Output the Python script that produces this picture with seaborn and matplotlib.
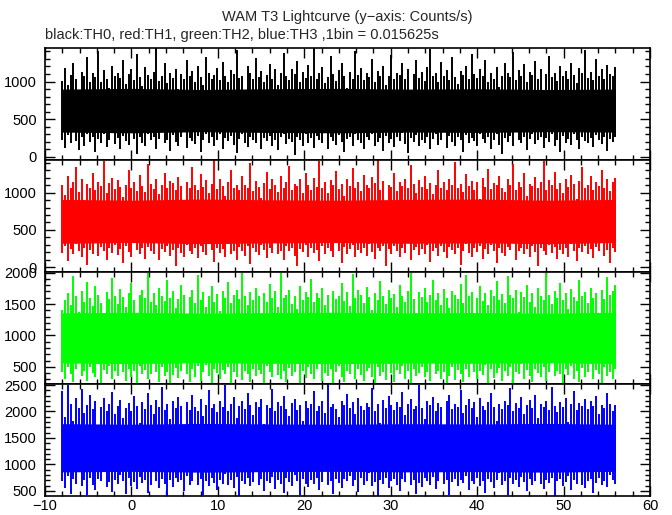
import numpy as np
import pandas as pd
import matplotlib
matplotlib.use("Agg")
import matplotlib.pyplot as plt
from matplotlib.ticker import MultipleLocator
import seaborn as sns

# ---------------- data ----------------
# envelope of the light curve, read at 201 positions from -8 s to 56 s
t_start, t_end = -8.0, 56.0

th0_hi = [1010, 1180, 960, 1090, 1250, 1040, 880, 1130, 1070, 1320,
          1000, 1110, 1060, 1400, 990, 1150, 1030, 920, 1210, 1080,
          1120, 1050, 1290, 970, 1100, 1160, 1020, 1360, 1060, 940,
          1190, 1090, 1040, 1130, 1440, 1010, 1070, 1240, 980, 1120,
          1050, 1170, 900, 1100, 1030, 1280, 1080, 1140, 1000, 1210,
          1060, 960, 1330, 1110, 1040, 1090, 1180, 1020, 1260, 1070,
          990, 1150, 1100, 1420, 1050, 1080, 850, 1200, 1120, 1030,
          1310, 1060, 1140, 1000, 1090, 1230, 1040, 1170, 950, 1110,
          1380, 1070, 1020, 1160, 1100, 1270, 990, 1130, 1050, 1220,
          1080, 1440, 1030, 1120, 1190, 980, 1060, 1340, 1100, 1010,
          1150, 1250, 1070, 920, 1130, 1040, 1410, 1090, 1180, 1020,
          1110, 1060, 1300, 1000, 1140, 1080, 1200, 960, 1070, 1350,
          1040, 1120, 1090, 1240, 1030, 1170, 890, 1100, 1280, 1050,
          1130, 1010, 1190, 1430, 1070, 1110, 1000, 1260, 1080, 1150,
          1020, 1320, 1060, 970, 1140, 1090, 1210, 1040, 1370, 1100,
          1050, 1160, 1080, 1290, 1000, 1120, 1030, 1190, 930, 1070,
          1240, 1110, 1060, 1390, 1020, 1150, 1080, 1230, 1000, 1130,
          1090, 1270, 1040, 1170, 870, 1100, 1340, 1060, 1120, 1010,
          1200, 1070, 1140, 1030, 1250, 1090, 980, 1180, 1110, 1420,
          1050, 1130, 1020, 1300, 1080, 1160, 1040, 1220, 1100, 1070,
          1190]
th0_lo = [230, 120, 290, 180, 340, 210, 90, 260, 150, 310,
          200, 270, 60, 240, 180, 300, 130, 220, 350, 170,
          250, 100, 280, 210, 160, 320, 240, 40, 270, 190,
          140, 300, 220, 260, 110, 240, 360, 180, 230, 80,
          290, 200, 150, 270, 330, 120, 250, 210, 170, 280,
          70, 230, 310, 190, 260, 140, 220, 300, 100, 250,
          210, 280, 160, 50, 240, 300, 190, 130, 270, 230,
          180, 340, 110, 250, 210, 280, 150, 230, 90, 260,
          300, 170, 240, 200, 30, 270, 220, 140, 310, 190,
          250, 120, 280, 230, 180, 350, 100, 260, 210, 160,
          290, 200, 60, 240, 270, 150, 310, 220, 180, 110,
          260, 230, 300, 140, 200, 250, 80, 280, 190, 240,
          130, 270, 210, 320, 170, 50, 250, 200, 290, 150,
          230, 180, 270, 100, 240, 300, 160, 220, 340, 120,
          280, 200, 150, 260, 230, 70, 290, 180, 250, 210,
          140, 310, 240, 190, 270, 110, 230, 300, 160, 40,
          250, 200, 280, 140, 330, 220, 180, 260, 90, 240,
          300, 170, 230, 270, 120, 250, 200, 310, 150, 220,
          60, 280, 190, 240, 160, 300, 230, 100, 270, 210,
          180, 250, 130, 290, 220, 170, 260, 80, 240, 200,
          270]

th1_hi = [1100, 970, 1220, 1060, 1140, 1350, 1010, 1180, 900, 1120,
          1070, 1260, 1040, 1150, 1090, 1430, 1000, 1130, 1200, 1050,
          1170, 1080, 940, 1110, 1300, 1060, 1140, 1020, 1240, 1090,
          1010, 1380, 1120, 1050, 1190, 980, 1100, 1270, 1070, 1160,
          1130, 1040, 1210, 1090, 870, 1150, 1060, 1340, 1110, 1030,
          1250, 1080, 1170, 1000, 1120, 1440, 1050, 1190, 1090, 960,
          1140, 1310, 1070, 1110, 1030, 1220, 1100, 1060, 1400, 1020,
          1160, 1080, 930, 1130, 1280, 1050, 1180, 1100, 1010, 1230,
          1070, 1150, 1360, 1040, 1120, 1090, 1190, 990, 1260, 1110,
          1030, 1200, 1080, 1420, 1060, 1140, 1000, 1170, 1100, 1290,
          1050, 1120, 950, 1180, 1090, 1330, 1070, 1150, 1020, 1240,
          1100, 1060, 1210, 1130, 1440, 1040, 1160, 890, 1110, 1080,
          1270, 1020, 1140, 1090, 1190, 1060, 1370, 1120, 1000, 1170,
          1080, 1230, 1050, 1130, 980, 1110, 1300, 1070, 1150, 1040,
          1190, 1100, 1410, 1060, 1120, 1010, 1250, 1090, 1160, 1030,
          1140, 920, 1200, 1080, 1320, 1050, 1130, 1100, 1220, 1070,
          1010, 1180, 1110, 1390, 1040, 1150, 1080, 1260, 960, 1120,
          1090, 1210, 1060, 1140, 1430, 1030, 1170, 1100, 1280, 1050,
          1130, 1000, 1190, 1080, 1240, 1120, 910, 1160, 1350, 1070,
          1110, 1230, 1040, 1150, 1090, 1300, 1060, 1180, 1020, 1140,
          1200]
th1_lo = [190, 290, 80, 240, 170, 310, 210, 130, 260, 30,
          230, 180, 340, 150, 270, 210, 100, 250, 190, 300,
          160, 240, 60, 280, 200, 140, 320, 230, 170, 250,
          110, 270, 210, 180, 350, 90, 240, 200, 290, 150,
          230, 20, 260, 190, 140, 300, 220, 170, 250, 120,
          280, 200, 160, 330, 230, 70, 260, 190, 240, 140,
          310, 180, 220, 100, 270, 210, 150, 290, 40, 250,
          200, 160, 300, 230, 120, 260, 190, 340, 170, 220,
          90, 280, 210, 250, 150, 10, 240, 200, 300, 130,
          260, 190, 230, 80, 290, 170, 250, 210, 140, 320,
          220, 60, 270, 180, 240, 300, 130, 230, 190, 260,
          150, 310, 200, 110, 250, 220, 280, 20, 240, 170,
          290, 210, 140, 260, 190, 330, 100, 230, 270, 160,
          240, 180, 300, 70, 220, 260, 150, 290, 200, 120,
          270, 230, 170, 250, 30, 210, 310, 190, 140, 260,
          200, 280, 110, 240, 180, 300, 220, 60, 250, 190,
          150, 270, 230, 320, 90, 210, 260, 170, 240, 130,
          290, 200, 10, 250, 220, 160, 300, 190, 270, 110,
          230, 180, 260, 140, 310, 220, 80, 250, 200, 290,
          170, 240, 120, 270, 210, 330, 150, 230, 50, 260,
          200]

th2_hi = [1410, 1560, 1680, 1490, 1950, 1620, 1380, 1710, 1540, 1850,
          1600, 1470, 1790, 1650, 1520, 1300, 1690, 1580, 1910, 1630,
          1500, 1740, 1610, 1450, 1680, 1830, 1560, 1360, 1640, 1720,
          1590, 2000, 1530, 1670, 1480, 1760, 1620, 1550, 1880, 1600,
          1700, 1440, 1580, 1810, 1650, 1270, 1610, 1730, 1520, 1960,
          1570, 1690, 1460, 1630, 1780, 1540, 1660, 1390, 1700, 1600,
          1850, 1510, 1640, 1720, 1580, 2000, 1620, 1480, 1690, 1560,
          1750, 1620, 1330, 1670, 1540, 1820, 1600, 1700, 1460, 1990,
          1590, 1650, 1730, 1500, 1620, 1420, 1780, 1560, 1690, 1610,
          1900, 1530, 1670, 1600, 1760, 1480, 1640, 1310, 1710, 1580,
          1620, 1840, 1550, 1690, 1470, 1980, 1600, 1730, 1650, 1520,
          1770, 1610, 1400, 1680, 1560, 1860, 1630, 1500, 1720, 1590,
          1660, 1450, 1800, 1620, 1540, 1700, 2000, 1580, 1350, 1690,
          1610, 1750, 1530, 1640, 1890, 1570, 1680, 1490, 1740, 1600,
          1430, 1710, 1650, 1580, 1820, 1520, 1970, 1630, 1690, 1280,
          1600, 1780, 1550, 1670, 1480, 1730, 1620, 1870, 1570, 1660,
          1510, 1940, 1640, 1590, 1720, 1380, 1690, 1610, 1800, 1540,
          1680, 1460, 1750, 1620, 1560, 2000, 1650, 1500, 1710, 1590,
          1830, 1570, 1670, 1420, 1740, 1610, 1550, 1880, 1630, 1690,
          1520, 1760, 1600, 1680, 1340, 1720, 1580, 1930, 1640, 1700,
          1810]
th2_lo = [420, 310, 500, 380, 250, 460, 570, 350, 440, 280,
          490, 400, 330, 540, 230, 450, 380, 510, 300, 430,
          360, 590, 410, 270, 470, 340, 430, 240, 520, 390,
          450, 300, 380, 560, 420, 260, 490, 350, 410, 230,
          370, 480, 320, 440, 600, 390, 250, 460, 340, 510,
          280, 420, 530, 360, 240, 470, 400, 310, 450, 380,
          500, 230, 410, 340, 560, 290, 440, 380, 260, 470,
          350, 450, 390, 230, 510, 420, 330, 580, 370, 300,
          440, 260, 480, 360, 410, 540, 240, 430, 320, 490,
          380, 300, 460, 550, 270, 400, 350, 470, 230, 420,
          510, 340, 250, 440, 390, 610, 310, 460, 370, 280,
          430, 480, 330, 240, 500, 360, 420, 290, 550, 400,
          260, 450, 380, 520, 310, 430, 230, 470, 350, 400,
          490, 330, 410, 270, 560, 380, 440, 300, 420, 240,
          360, 500, 290, 450, 390, 250, 470, 340, 590, 410,
          300, 430, 370, 530, 240, 460, 320, 400, 480, 270,
          440, 350, 500, 230, 410, 380, 540, 310, 450, 360,
          260, 470, 400, 330, 490, 280, 420, 570, 350, 440,
          390, 240, 460, 370, 510, 300, 430, 260, 480, 340,
          420, 550, 310, 450, 380, 230, 490, 360, 410, 300,
          460]

th3_hi = [2380, 1900, 2500, 2150, 1820, 2260, 2060, 2430, 1980, 2120,
          2310, 2040, 2190, 1720, 2090, 2260, 2000, 2150, 2370, 1950,
          2110, 2220, 1880, 2070, 2160, 2010, 2290, 2100, 1790, 2180,
          2050, 2340, 2130, 1960, 2210, 2080, 2470, 2020, 2140, 1850,
          2190, 2060, 2270, 2110, 1700, 2170, 2030, 2320, 2090, 2000,
          2230, 1920, 2120, 2400, 2060, 2150, 1990, 2200, 2080, 2500,
          2010, 2140, 2280, 1870, 2100, 2190, 2040, 2350, 2120, 1940,
          2170, 2090, 2230, 1760, 2130, 2060, 2420, 2000, 2180, 2110,
          2300, 2050, 1910, 2160, 2240, 2020, 2130, 1830, 2200, 2070,
          2140, 2380, 2010, 2110, 2190, 1980, 2510, 2090, 2150, 2040,
          1890, 2200, 2120, 2330, 2060, 2170, 1950, 2250, 2100, 2030,
          2160, 2080, 2450, 2000, 2140, 1780, 2210, 2070, 2290, 2120,
          2020, 2180, 2090, 2360, 1930, 2150, 2240, 2050, 2110, 2500,
          2070, 1860, 2190, 2130, 2270, 2010, 2160, 2090, 1740, 2200,
          2310, 2040, 2150, 2080, 2410, 1970, 2120, 2230, 2060, 2180,
          1900, 2260, 2100, 2020, 2170, 2350, 2080, 1820, 2140, 2050,
          2190, 2120, 2440, 2010, 2160, 2070, 2280, 1950, 2130, 2210,
          2060, 2320, 1880, 2150, 2090, 2190, 2030, 2460, 2110, 1990,
          2170, 2080, 2250, 1800, 2140, 2390, 2020, 2160, 2100, 2230,
          2040, 2190, 2110, 2290, 1960, 2130, 2070, 2340, 2150, 2000,
          2120]
th3_lo = [690, 560, 780, 450, 720, 640, 880, 590, 700, 420,
          750, 620, 510, 730, 680, 900, 570, 660, 480, 710,
          630, 800, 690, 440, 740, 600, 670, 530, 760, 650,
          710, 470, 620, 850, 690, 560, 730, 640, 410, 700,
          580, 740, 660, 700, 500, 780, 620, 690, 930, 610,
          730, 430, 680, 600, 750, 650, 520, 710, 640, 820,
          620, 700, 560, 760, 410, 680, 630, 740, 590, 670,
          880, 610, 720, 490, 690, 650, 770, 540, 700, 630,
          460, 740, 660, 600, 810, 680, 420, 720, 640, 570,
          700, 630, 750, 520, 670, 900, 610, 690, 440, 730,
          650, 560, 720, 680, 780, 600, 700, 480, 740, 620,
          690, 840, 590, 660, 410, 710, 640, 750, 550, 680,
          720, 610, 500, 730, 670, 860, 620, 700, 450, 650,
          580, 740, 690, 620, 760, 530, 680, 920, 640, 710,
          430, 670, 720, 590, 700, 650, 790, 510, 690, 630,
          750, 600, 680, 470, 730, 660, 560, 710, 830, 620,
          690, 420, 740, 640, 700, 580, 770, 660, 490, 720,
          610, 680, 870, 630, 540, 710, 650, 740, 410, 690,
          730, 600, 660, 780, 520, 700, 640, 890, 620, 560,
          680, 720, 460, 650, 740, 610, 690, 580, 810, 700,
          640]

# dense (always filled) core of each band, read every 8 s
core_t = [-8, 0, 8, 16, 24, 32, 40, 48, 56]
th0_core_hi = [900, 910, 895, 905, 910, 900, 905, 895, 900]
th0_core_lo = [330, 320, 335, 325, 320, 330, 325, 335, 330]
th1_core_hi = [910, 900, 915, 905, 900, 910, 915, 900, 910]
th1_core_lo = [320, 330, 315, 325, 330, 320, 325, 315, 330]
th2_core_hi = [1360, 1370, 1355, 1365, 1370, 1360, 1365, 1355, 1370]
th2_core_lo = [560, 550, 565, 555, 550, 560, 555, 565, 550]
th3_core_hi = [1770, 1760, 1775, 1765, 1760, 1770, 1765, 1775, 1760]
th3_core_lo = [860, 870, 855, 865, 870, 860, 865, 855, 870]

channels = ["TH0", "TH1", "TH2", "TH3"]
colors = ["#000000", "#ff0000", "#00ff00", "#0000ff"]
ylims = [(-40, 1445), (-66, 1440), (226, 2010), (405, 2519)]
x_ticks = [-10, 0, 10, 20, 30, 40, 50, 60]

# ---------------- figure ----------------
sns.set_style("ticks")
plt.rcParams["font.family"] = ["Liberation Sans", "DejaVu Sans"]
plt.rcParams["axes.unicode_minus"] = True

W, H = 672, 515
fig = plt.figure(figsize=(W / 100, H / 100), dpi=100)
left, right = 45 / W, 650 / W
top, bottom = 1 - 48 / H, 1 - 496 / H
gs = fig.add_gridspec(4, 1, left=left, right=right, top=top, bottom=bottom, hspace=0)

his = [th0_hi, th1_hi, th2_hi, th3_hi]
los = [th0_lo, th1_lo, th2_lo, th3_lo]
core_his = [th0_core_hi, th1_core_hi, th2_core_hi, th3_core_hi]
core_los = [th0_core_lo, th1_core_lo, th2_core_lo, th3_core_lo]
t_bins = np.linspace(t_start, t_end, len(th0_hi))

axes = []
for i in range(4):
    ax = fig.add_subplot(gs[i, 0], sharex=axes[0] if axes else None)
    axes.append(ax)
    df = pd.DataFrame({"t": t_bins, "hi": his[i], "lo": los[i]})
    core = pd.DataFrame({"t": core_t, "hi": core_his[i], "lo": core_los[i]})
    ax.fill_between(core["t"], core["lo"], core["hi"], color=colors[i], lw=0)
    ax.vlines(df["t"], df["lo"], df["hi"], color=colors[i], lw=1.4)
    sns.lineplot(data=df, x="t", y="hi", ax=ax, color=colors[i], lw=0.0,
                 estimator=None, legend=False)
    ax.set_xlim(-10, 60)
    ax.set_ylim(*ylims[i])
    ax.yaxis.set_major_locator(MultipleLocator(500))
    ax.yaxis.set_minor_locator(MultipleLocator(100))
    ax.xaxis.set_major_locator(MultipleLocator(10))
    ax.xaxis.set_minor_locator(MultipleLocator(2))
    ax.set_xlabel("")
    ax.set_ylabel("")
    ax.tick_params(which="both", direction="in", top=True, right=True,
                   labelsize=10.5, width=1.0, color="black", labelcolor="black")
    ax.tick_params(which="major", length=7, pad=6)
    ax.tick_params(which="minor", length=3.5)
    for s in ax.spines.values():
        s.set_linewidth(1.2)
        s.set_color("black")
        s.set_visible(True)
    if i < 3:
        ax.tick_params(labelbottom=False)
    ax.set_facecolor("white")

axes[-1].set_xticks(x_ticks)
axes[-1].set_xlim(-10, 60)
axes[-1].tick_params(axis="x", pad=2.5)

cx = 0.5 * (left + right)
fig.text(cx, 1 - 17 / H, "WAM T3 Lightcurve (y\u2212axis: Counts/s)",
         ha="center", va="center", fontsize=10.5)
fig.text(left, 1 - 35 / H,
         "black:TH0, red:TH1, green:TH2, blue:TH3 ,1bin = 0.015625s",
         ha="left", va="center", fontsize=10.5)

fig.savefig("out.png", dpi=100, facecolor="white")
